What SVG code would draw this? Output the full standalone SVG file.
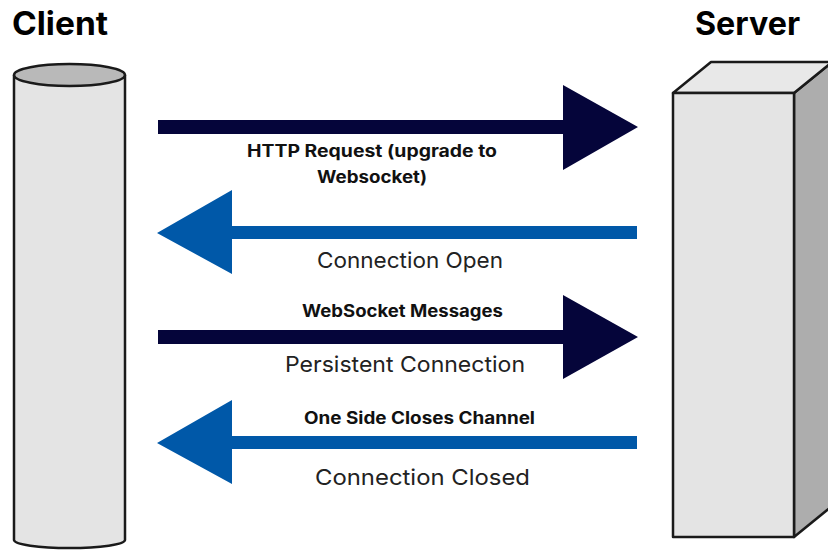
<svg xmlns="http://www.w3.org/2000/svg" width="828" height="550" viewBox="0 0 828 550">
  <style>
    .title { font-family: Inter, "Liberation Sans", sans-serif; font-weight: 700; font-size: 32px; fill: #000; }
    .lbl-b { font-family: Inter, "Liberation Sans", sans-serif; font-weight: 700; font-size: 17px; fill: #111; text-anchor: middle; }
    .lbl { font-family: Inter, "Liberation Sans", sans-serif; font-weight: 400; font-size: 22px; fill: #222; text-anchor: middle; }
    .edge { stroke: #1a1a1a; stroke-width: 2.5; stroke-linejoin: round; }
    .navy { fill: #05053a; }
    .blue { fill: #0058a8; }
  </style>

  <rect width="828" height="550" fill="#ffffff"/>

  <!-- Client: upright cylinder -->
  <g id="client">
    <text class="title" x="12" y="35" textLength="96" lengthAdjust="spacingAndGlyphs">Client</text>
    <path class="edge" d="M14,75 L14,540 A55.5,8 0 0 0 125,540 L125,75" fill="#e4e4e4"/>
    <ellipse class="edge" cx="69.5" cy="75" rx="55.5" ry="11" fill="#b9b9b9"/>
  </g>

  <!-- Server: box seen in perspective -->
  <g id="server">
    <text class="title" x="695" y="35" textLength="105" lengthAdjust="spacingAndGlyphs">Server</text>
    <polygon class="edge" points="794,93 832,62 832,506 794,537" fill="#adadad"/>
    <polygon class="edge" points="673,93 711,62 832,62 794,93" fill="#e8e8e8"/>
    <rect class="edge" x="673" y="93" width="121" height="444" fill="#e4e4e4"/>
  </g>

  <!-- Message arrows between client and server -->
  <g id="connectors">
    <g id="http-request">
      <polygon class="navy" points="158,120 563,120 563,85 638,127 563,170 563,134 158,134"/>
      <text class="lbl-b" x="372" y="157" textLength="250" lengthAdjust="spacingAndGlyphs">HTTP Request (upgrade to</text>
      <text class="lbl-b" x="372" y="183" textLength="110" lengthAdjust="spacingAndGlyphs">Websocket)</text>
    </g>
    <g id="connection-open">
      <polygon class="blue" points="637,226 232,226 232,190 157,233 232,274 232,239 637,239"/>
      <text class="lbl" x="410" y="268" textLength="186" lengthAdjust="spacingAndGlyphs">Connection Open</text>
    </g>
    <g id="websocket-messages">
      <polygon class="navy" points="158,330 563,330 563,295 638,337 563,379 563,344 158,344"/>
      <text class="lbl-b" x="402.5" y="317" textLength="201" lengthAdjust="spacingAndGlyphs">WebSocket Messages</text>
      <text class="lbl" x="405" y="372" textLength="240" lengthAdjust="spacingAndGlyphs">Persistent Connection</text>
    </g>
    <g id="connection-closed">
      <polygon class="blue" points="637,436 232,436 232,400 157,443 232,484 232,449 637,449"/>
      <text class="lbl-b" x="419.5" y="424" textLength="231" lengthAdjust="spacingAndGlyphs">One Side Closes Channel</text>
      <text class="lbl" x="422.5" y="485" textLength="215" lengthAdjust="spacingAndGlyphs">Connection Closed</text>
    </g>
  </g>
</svg>
